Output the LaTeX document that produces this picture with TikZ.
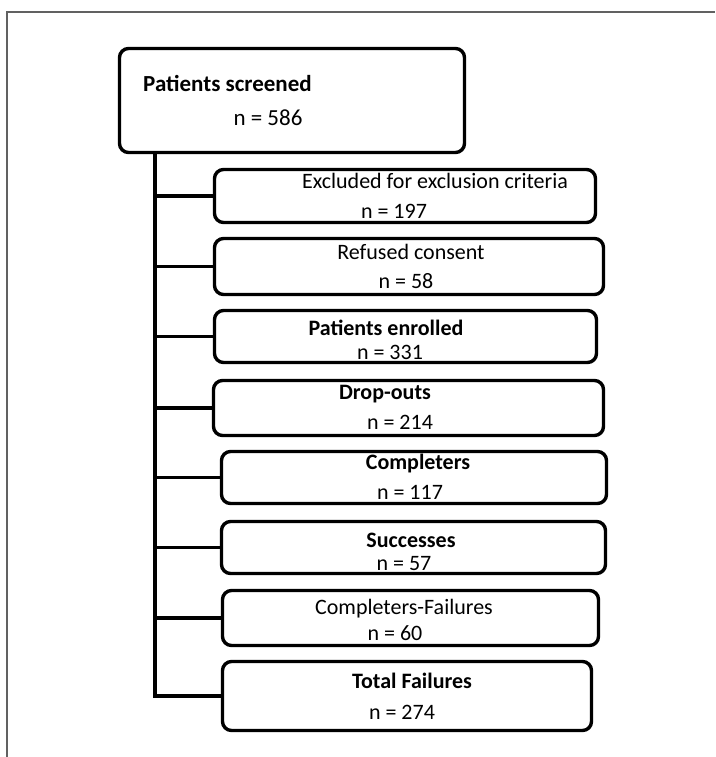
\documentclass[tikz,border=0pt]{standalone}
\usepackage{fontspec}
\setmainfont{Carlito}
\begin{document}
\begin{tikzpicture}[x=1pt,y=-1pt,
  box/.style={draw=black,line width=3.4pt,rounded corners=9pt,inner sep=0pt,outer sep=0pt},
  conn/.style={draw=black,line width=3.4pt},
  frame/.style={draw=black!62,line width=1.3pt},
  txt/.style={anchor=base,inner sep=0pt,font=\fontsize{22}{25}\selectfont},
  btxt/.style={txt,font=\fontsize{22}{25}\selectfont\bfseries},
  big/.style={anchor=base,inner sep=0pt,font=\fontsize{23}{26}\selectfont}]
\useasboundingbox (0,0) rectangle (715,757);
\fill[white] (0,0) rectangle (715,757);
% frame (top and left edges only)
\coordinate (f1) at (7,757);
\coordinate (f2) at (7,12);
\coordinate (f3) at (715,12);
\draw[frame] (f1) -- (f2) -- (f3);
% boxes
\node[box,minimum width=345pt,minimum height=104pt] (top) at (292,100.5) {};
\node[box,minimum width=381pt,minimum height=53pt] (b1) at (405,196) {};
\node[box,minimum width=389pt,minimum height=56pt] (b2) at (409,266.5) {};
\node[box,minimum width=382pt,minimum height=52pt] (b3) at (405.5,336.5) {};
\node[box,minimum width=390pt,minimum height=55pt] (b4) at (408.5,408) {};
\node[box,minimum width=385pt,minimum height=52pt] (b5) at (414,477.5) {};
\node[box,minimum width=384pt,minimum height=52pt] (b6) at (413.5,547.5) {};
\node[box,minimum width=376pt,minimum height=55pt] (b7) at (410.5,618) {};
\node[box,minimum width=369pt,minimum height=69pt] (b8) at (407,696) {};
% texts
\node[big,font=\fontsize{23}{26}\selectfont\bfseries,anchor=base west] (t0a) at (143,92) {Patients screened};
\node[big] (t0b) at (268,125) {n = 586};
\node[txt] (t1a) at (435,188) {Excluded for exclusion criteria};
\node[txt] (t1b) at (394,218) {n = 197};
\node[txt] (t2a) at (411,259) {Refused consent};
\node[txt] (t2b) at (406,288) {n = 58};
\node[btxt] (t3a) at (386,335) {Patients enrolled};
\node[txt] (t3b) at (390,359) {n = 331};
\node[btxt] (t4a) at (385,399) {Drop-outs};
\node[txt] (t4b) at (400,429) {n = 214};
\node[btxt] (t5a) at (418,469) {Completers};
\node[txt] (t5b) at (410,499) {n = 117};
\node[btxt] (t6a) at (411,547) {Successes};
\node[txt] (t6b) at (404,570) {n = 57};
\node[txt] (t7a) at (404,614) {Completers-Failures};
\node[txt] (t7b) at (395,640) {n = 60};
\node[btxt] (t8a) at (412,688) {Total Failures};
\node[txt] (t8b) at (402,719) {n = 274};
% connectors
\coordinate (s) at (155,154);
\draw[conn] (s) |- (b8.west);
\foreach \b in {b1,b2,b3,b4,b5,b6,b7}{
  \draw[conn] (s |- \b.west) -- (\b.west);
}
\end{tikzpicture}
\end{document}
